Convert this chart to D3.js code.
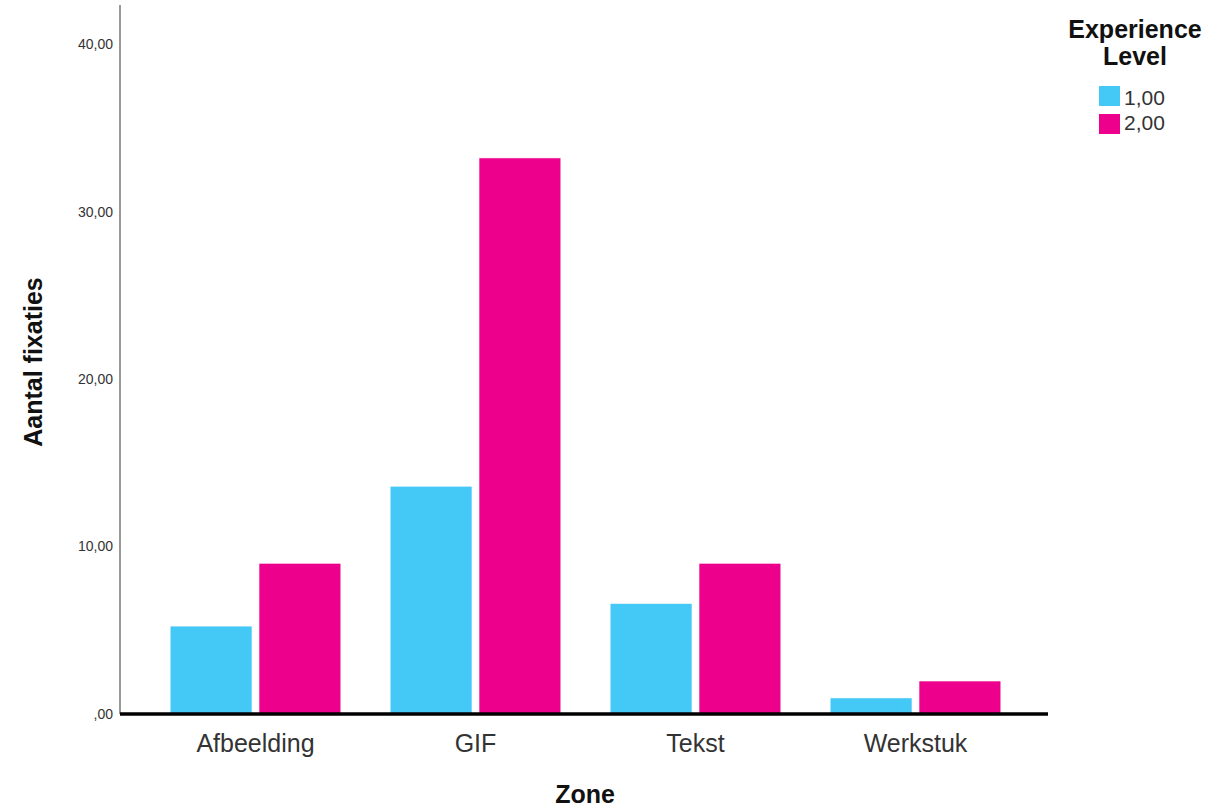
<!DOCTYPE html>
<html><head><meta charset="utf-8">
<script src="https://cdn.jsdelivr.net/npm/d3@7"></script>
<style>body{margin:0;background:#fff;font-family:"Liberation Sans",Arial,sans-serif}</style>
</head><body>
<svg id="chart" width="1211" height="808"></svg>
<script>
const categories = ["Afbeelding", "GIF", "Tekst", "Werkstuk"];
const seriesNames = ["1,00", "2,00"];
const level1 = [5.25, 13.6, 6.6, 0.96];
const level2 = [9.0, 33.2, 9.0, 1.97];
const yTicks = [0, 10, 20, 30, 40];
const colors = ["#44C8F5", "#EC008C"];

const svg = d3.select("#chart");
const x0 = 120, x1 = 1048, yBase = 714, yTop = 5;
const y = d3.scaleLinear().domain([0, 42.33]).range([yBase, yTop]);
const x = d3.scaleBand().domain(categories).range([145.5, 1025.5]).paddingInner(0.224).paddingOuter(0.112);
const xs = d3.scaleBand().domain(seriesNames).range([0, x.bandwidth()]).paddingInner(0.079);
const color = d3.scaleOrdinal().domain(seriesNames).range(colors);
const fmt = v => (v === 0 ? "" : String(v)) + ",00";

const rows = categories.map((c, i) => ({cat: c, vals: [level1[i], level2[i]]}));

// bars
const g = svg.append("g");
rows.forEach(r => {
  g.selectAll(null).data(seriesNames.map((s, j) => ({s, v: r.vals[j]}))).enter()
    .append("rect")
    .attr("x", d => x(r.cat) + xs(d.s))
    .attr("width", xs.bandwidth())
    .attr("y", d => y(d.v))
    .attr("height", d => yBase - y(d.v))
    .attr("fill", d => color(d.s))
    .attr("stroke", "#fff").attr("stroke-width", 0.6);
});

// y axis
const yAxis = d3.axisLeft(y).tickValues(yTicks).tickFormat(fmt).tickSize(0).tickPadding(7);
const ya = svg.append("g").attr("transform", `translate(${x0},0)`).call(yAxis);
ya.select(".domain").remove();
ya.selectAll("text").attr("font-size", 14).attr("fill", "#333").attr("font-family", "Liberation Sans, Arial, sans-serif");
svg.append("line").attr("x1", x0).attr("x2", x0).attr("y1", yTop).attr("y2", yBase)
  .attr("stroke", "#999").attr("stroke-width", 2);

// x axis
const xAxis = d3.axisBottom(x).tickSize(0).tickPadding(20);
const xa = svg.append("g").attr("transform", `translate(0,${yBase})`).call(xAxis);
xa.select(".domain").remove();
xa.selectAll("text").attr("font-size", 25).attr("fill", "#333").attr("font-family", "Liberation Sans, Arial, sans-serif");
svg.append("line").attr("x1", x0).attr("x2", x1).attr("y1", yBase).attr("y2", yBase)
  .attr("stroke", "#000").attr("stroke-width", 3.5);

// axis titles
svg.append("text").attr("x", 585).attr("y", 803).attr("text-anchor", "middle")
  .attr("font-size", 25).attr("font-weight", "bold").attr("fill", "#111").text("Zone");
svg.append("text").attr("transform", "translate(42,362) rotate(-90)").attr("text-anchor", "middle")
  .attr("font-size", 25).attr("font-weight", "bold").attr("fill", "#111").text("Aantal fixaties");

// legend
const lg = svg.append("g");
lg.append("text").attr("x", 1135).attr("y", 38).attr("text-anchor", "middle")
  .attr("font-size", 25).attr("font-weight", "bold").attr("fill", "#111").text("Experience");
lg.append("text").attr("x", 1135).attr("y", 65).attr("text-anchor", "middle")
  .attr("font-size", 25).attr("font-weight", "bold").attr("fill", "#111").text("Level");
seriesNames.forEach((s, i) => {
  lg.append("rect").attr("x", 1099).attr("y", 86 + i * 28).attr("width", 21).attr("height", 20).attr("fill", color(s));
  lg.append("text").attr("x", 1124).attr("y", 105 + i * 25).attr("font-size", 21).attr("fill", "#333").text(s);
});
</script>
</body></html>
